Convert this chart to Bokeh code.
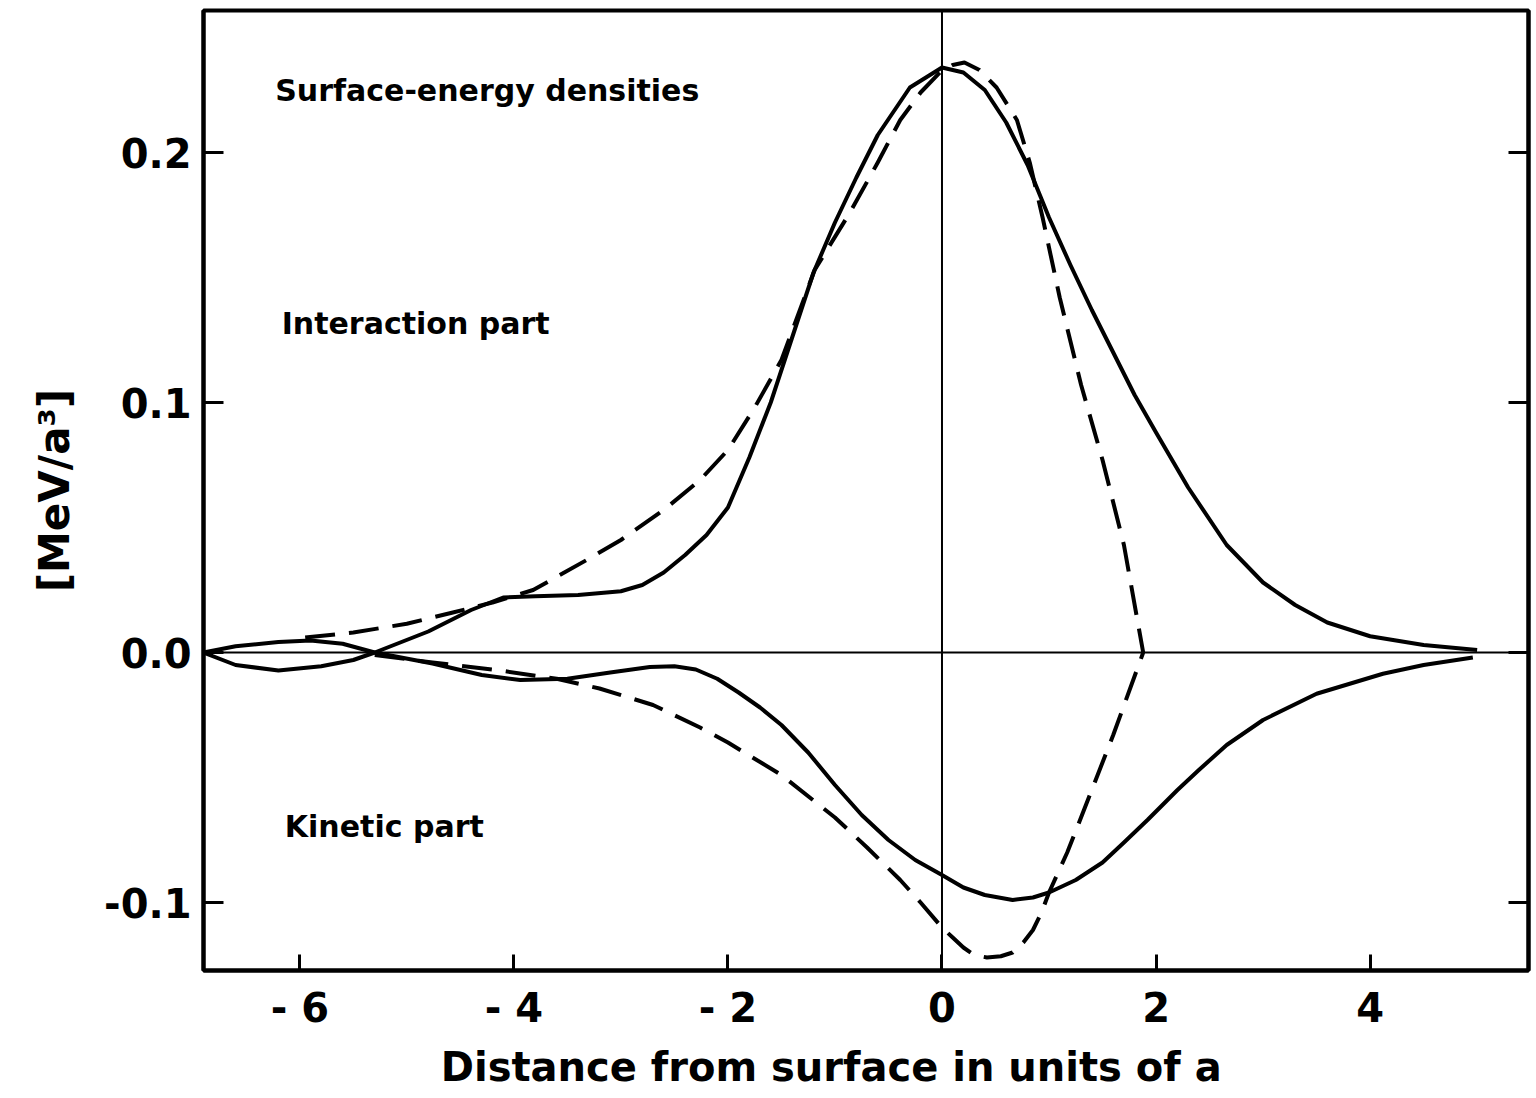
from bokeh.plotting import figure
from bokeh.models import Span, Label, LinearAxis, FixedTicker, Range1d
from bokeh.embed import file_html
from bokeh.resources import INLINE

# ---- data ----
int_solid_x = [-6.9, -6.6, -6.2, -5.8, -5.5, -5.3, -4.8, -4.4, -4.1, -3.8, -3.4, -3.0, -2.8, -2.6, -2.4,
               -2.2, -2.0, -1.8, -1.6, -1.4, -1.2, -1.0, -0.8, -0.6, -0.3, 0.0, 0.2, 0.4, 0.6, 0.8, 1.0,
               1.2, 1.4, 1.6, 1.8, 2.0, 2.3, 2.66, 3.0, 3.3, 3.6, 4.0, 4.5, 5.0]
int_solid_y = [0.0, -0.005, -0.0072, -0.0055, -0.003, 0.0, 0.0084, 0.017, 0.022, 0.0225, 0.023, 0.0245,
               0.027, 0.032, 0.039, 0.047, 0.058, 0.078, 0.100, 0.126, 0.152, 0.172, 0.190, 0.207, 0.226,
               0.234, 0.232, 0.225, 0.212, 0.195, 0.174, 0.155, 0.137, 0.120, 0.103, 0.088, 0.066, 0.043,
               0.028, 0.019, 0.012, 0.0065, 0.003, 0.001]

int_dash_x = [-5.95, -5.5, -5.0, -4.57, -4.2, -3.82, -3.32, -3.0, -2.6, -2.26, -2.0, -1.75, -1.5, -1.19,
              -0.86, -0.6, -0.39, -0.2, -0.02, 0.1, 0.21, 0.35, 0.51, 0.70, 0.82, 0.94, 1.1, 1.3, 1.5,
              1.7, 1.88]
int_dash_y = [0.006, 0.008, 0.0115, 0.016, 0.020, 0.025, 0.037, 0.045, 0.057, 0.069, 0.081, 0.098, 0.117,
              0.153, 0.176, 0.196, 0.213, 0.224, 0.232, 0.235, 0.236, 0.233, 0.226, 0.213, 0.196, 0.174,
              0.142, 0.107, 0.077, 0.043, 0.0]

kin_solid_x = [-6.9, -6.6, -6.2, -5.9, -5.6, -5.3, -4.76, -4.3, -3.94, -3.5, -3.1, -2.73, -2.5, -2.3, -2.1,
               -1.9, -1.7, -1.5, -1.25, -1.0, -0.75, -0.5, -0.25, 0.0, 0.2, 0.4, 0.66, 0.85, 1.0, 1.25,
               1.5, 1.7, 1.92, 2.2, 2.4, 2.66, 3.0, 3.5, 4.12, 4.5, 4.96]
kin_solid_y = [0.0, 0.0025, 0.0042, 0.0048, 0.0035, 0.0, -0.0044, -0.009, -0.011, -0.0105, -0.008,
               -0.0058, -0.0055, -0.0068, -0.0105, -0.016, -0.022, -0.029, -0.040, -0.053, -0.065, -0.075,
               -0.083, -0.089, -0.094, -0.097, -0.099, -0.098, -0.096, -0.091, -0.084, -0.076, -0.067,
               -0.055, -0.047, -0.037, -0.027, -0.0165, -0.0085, -0.005, -0.002]

kin_dash_x = [-5.3, -4.76, -4.13, -3.6, -3.2, -2.7, -2.26, -2.0, -1.5, -1.0, -0.7, -0.39, -0.2, 0.0, 0.1,
              0.2, 0.3, 0.42, 0.55, 0.66, 0.76, 0.85, 0.93, 1.0, 1.17, 1.29, 1.6, 1.88]
kin_dash_y = [-0.001, -0.004, -0.0072, -0.0105, -0.0144, -0.021, -0.030, -0.036, -0.049, -0.066, -0.078,
              -0.091, -0.100, -0.110, -0.114, -0.118, -0.121, -0.122, -0.1215, -0.120, -0.116, -0.111,
              -0.104, -0.096, -0.080, -0.067, -0.033, 0.0]

x_ticks = [-6, -4, -2, 0, 2, 4]
x_tick_labels = {-6: "- 6", -4: "- 4", -2: "- 2", 0: "0", 2: "2", 4: "4"}
y_ticks = [-0.1, 0.0, 0.1, 0.2]
y_tick_labels = {-0.1: "-0.1", 0.0: "0.0", 0.1: "0.1", 0.2: "0.2"}

FONT = "DejaVu Sans"

p = figure(width=1533, height=1088, output_backend="svg", toolbar_location=None,
           x_range=Range1d(-6.9, 5.48), y_range=Range1d(-0.1272, 0.2568),
           min_border_left=203, min_border_right=5, min_border_top=10, min_border_bottom=110)
p.frame_width = 1325
p.frame_height = 960

p.grid.visible = False
p.outline_line_color = "black"
p.outline_line_width = 4
p.background_fill_color = "white"
p.border_fill_color = "white"

# x axis
xa = p.xaxis[0]
xa.ticker = FixedTicker(ticks=x_ticks)
xa.major_label_overrides = x_tick_labels
xa.minor_tick_line_color = None
xa.major_tick_in = 16
xa.major_tick_out = 0
xa.major_tick_line_width = 3
xa.axis_line_width = 4
xa.major_label_text_font = FONT
xa.major_label_text_font_size = "40px"
xa.major_label_text_font_style = "bold"
xa.major_label_text_color = "black"
xa.major_label_standoff = 14
xa.axis_label = "Distance  from  surface  in units  of  a"
xa.axis_label_text_font = FONT
xa.axis_label_text_font_size = "40px"
xa.axis_label_text_font_style = "bold"
xa.axis_label_text_color = "black"
xa.axis_label_standoff = 10

# y axis
ya = p.yaxis[0]
ya.ticker = FixedTicker(ticks=y_ticks)
ya.major_label_overrides = y_tick_labels
ya.minor_tick_line_color = None
ya.major_tick_in = 20
ya.major_tick_out = 0
ya.major_tick_line_width = 3
ya.axis_line_width = 4
ya.major_label_text_font = FONT
ya.major_label_text_font_size = "40px"
ya.major_label_text_font_style = "bold"
ya.major_label_text_color = "black"
ya.major_label_standoff = 12
ya.axis_label = "[MeV/a³]"
ya.axis_label_text_font = FONT
ya.axis_label_text_font_size = "42px"
ya.axis_label_text_font_style = "bold"
ya.axis_label_text_color = "black"
ya.axis_label_standoff = 22

# right axis with inward ticks only
ra = LinearAxis(ticker=FixedTicker(ticks=y_ticks))
ra.major_label_text_font_size = "0px"
ra.major_label_text_alpha = 0
ra.minor_tick_line_color = None
ra.major_tick_in = 20
ra.major_tick_out = 0
ra.major_tick_line_width = 3
ra.axis_line_width = 4
ra.major_label_standoff = 0
p.add_layout(ra, "right")

# reference lines
p.add_layout(Span(location=0, dimension="width", line_color="black", line_width=2))
p.add_layout(Span(location=0, dimension="height", line_color="black", line_width=2))

# curves
p.line(int_solid_x, int_solid_y, line_color="black", line_width=4, line_join="round")
p.line(kin_solid_x, kin_solid_y, line_color="black", line_width=4, line_join="round")
p.line(int_dash_x, int_dash_y, line_color="black", line_width=4, line_dash="30 14", line_join="round")
p.line(kin_dash_x, kin_dash_y, line_color="black", line_width=4, line_dash="30 14", line_join="round")

# annotations
for txt, x, y in [("Surface-energy densities", -6.23, 0.2248),
                  ("Interaction  part", -6.17, 0.1316),
                  ("Kinetic  part", -6.14, -0.0696)]:
    p.add_layout(Label(x=x, y=y, text=txt, text_font=FONT, text_font_size="30px",
                       text_font_style="bold", text_color="black", text_baseline="middle",
                       text_align="left"))

open("out.html", "w").write(file_html(p, INLINE))
